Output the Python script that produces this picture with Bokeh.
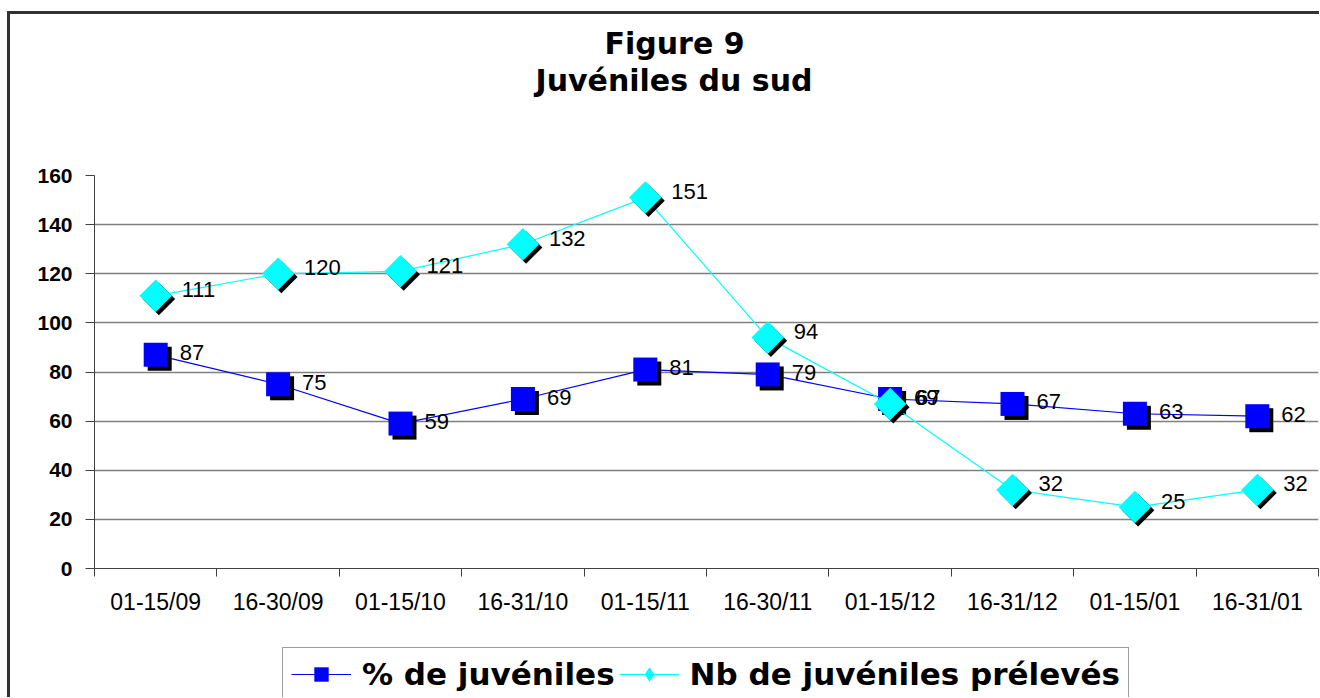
import numpy as np
from bokeh.plotting import figure
from bokeh.layouts import column
from bokeh.models import (Range1d, FixedTicker, Grid, Legend, LegendItem,
                          ColumnDataSource, Title)
from bokeh.core.properties import value
from bokeh.transform import dodge
from bokeh.embed import file_html
from bokeh.resources import INLINE

# ---- data ----
categories = ["01-15/09", "16-30/09", "01-15/10", "16-31/10", "01-15/11",
              "16-30/11", "01-15/12", "16-31/12", "01-15/01", "16-31/01"]
pct_juveniles = [87, 75, 59, 69, 81, 79, 69, 67, 63, 62]
nb_juveniles = [111, 120, 121, 132, 151, 94, 67, 32, 25, 32]
y_ticks = [0, 20, 40, 60, 80, 100, 120, 140, 160]
title_lines = ["Figure 9", "Juvéniles du sud"]
series_names = ["% de juvéniles", "Nb de juvéniles prélevés"]

n = len(categories)
xpos = [i + 0.5 for i in range(n)]

W, H = 1309, 626
HB = 57
ML, MT, MR, MB = 84, 161, 1, 72
frame_w = W - ML - MR
frame_h = H - MT - MB
ymax = y_ticks[-1]
SH = 4  # shadow offset px
dx = SH * n / frame_w
dy = -SH * ymax / frame_h

BLUE, CYAN = "#0000FF", "#00FFFF"
TITLE_FONT = dict(text_font="DejaVu Sans", text_font_style="bold",
                  text_font_size="30px", text_color="black")

src1 = ColumnDataSource(dict(x=xpos, y=pct_juveniles, t=[str(v) for v in pct_juveniles]))
src2 = ColumnDataSource(dict(x=xpos, y=nb_juveniles, t=[str(v) for v in nb_juveniles]))

p = figure(width=W, height=H, output_backend="svg", toolbar_location=None,
           x_range=Range1d(0, n), y_range=Range1d(0, ymax),
           min_border_left=ML, min_border_top=MT, min_border_right=MR,
           min_border_bottom=MB, background_fill_color="white",
           border_fill_color="white")
p.outline_line_color = None

# titles: above[0] is nearest the plot, p.title is outermost
p.add_layout(Title(text=" ", standoff=41, **TITLE_FONT), "above")       # spacer
p.add_layout(Title(text=title_lines[1], align="left", offset=441, standoff=0,
                   **TITLE_FONT), "above")
p.title.text = title_lines[0]
p.title.align = "left"
p.title.offset = 510
p.title.standoff = 0
p.title.text_font = "DejaVu Sans"
p.title.text_font_style = "bold"
p.title.text_font_size = "30px"
p.title.text_color = "black"

# axes
p.xaxis.ticker = FixedTicker(ticks=xpos, minor_ticks=list(range(n + 1)))
p.xaxis.major_label_overrides = {x: c for x, c in zip(xpos, categories)}
p.xaxis.major_tick_line_color = None
p.xaxis.major_tick_out = 0
p.xaxis.major_tick_in = 0
p.xaxis.minor_tick_out = 8
p.xaxis.minor_tick_in = 0
p.xaxis.minor_tick_line_color = "#404040"
p.xaxis.axis_line_color = "#404040"
p.xaxis.major_label_text_font = "Liberation Sans"
p.xaxis.major_label_text_font_size = "23px"
p.xaxis.major_label_text_color = "black"
p.xaxis.major_label_standoff = 12

p.yaxis.ticker = FixedTicker(ticks=y_ticks)
p.yaxis.minor_tick_line_color = None
p.yaxis.major_tick_out = 9
p.yaxis.major_tick_in = 0
p.yaxis.major_tick_line_color = "#404040"
p.yaxis.axis_line_color = "#404040"
p.yaxis.major_label_text_font = "Liberation Sans"
p.yaxis.major_label_text_font_style = "bold"
p.yaxis.major_label_text_font_size = "21px"
p.yaxis.major_label_text_color = "black"
p.yaxis.major_label_standoff = 13

p.xgrid.visible = False
p.ygrid.ticker = FixedTicker(ticks=y_ticks[1:-1])
p.ygrid.grid_line_color = "#808080"
p.ygrid.grid_line_width = 1.5
top_grid = Grid(dimension=1, ticker=FixedTicker(ticks=[ymax]),
                grid_line_color="#e4e4e4", grid_line_width=2)
p.add_layout(top_grid)

# series 1: % de juvéniles
p.line("x", "y", source=src1, line_color=BLUE, line_width=1.2)
p.scatter(dodge("x", dx), dodge("y", dy), source=src1, marker="square",
          size=24, fill_color="black", line_color=None)
p.scatter("x", "y", source=src1, marker="square", size=24,
          fill_color=BLUE, line_color=None)

# series 2: Nb de juvéniles prélevés
p.line("x", "y", source=src2, line_color=CYAN, line_width=1.2)
p.scatter(dodge("x", dx * 0.8), dodge("y", dy * 0.8), source=src2, marker="square",
          angle=np.pi / 4, size=23, fill_color="black", line_color=None)
p.scatter("x", "y", source=src2, marker="square", angle=np.pi / 4, size=23,
          fill_color=CYAN, line_color=None)

# data labels
p.text("x", "y", text="t", source=src1, x_offset=24, y_offset=-2,
       text_font=value("Liberation Sans"), text_font_size="22px", text_color="black",
       text_baseline="middle", text_align="left")
p.text("x", "y", text="t", source=src2, x_offset=26, y_offset=-6,
       text_font=value("Liberation Sans"), text_font_size="22px", text_color="black",
       text_baseline="middle", text_align="left")

# ---- legend strip (own figure so the legend is not clipped) ----
b = figure(width=W, height=HB, output_backend="svg", toolbar_location=None,
           x_range=Range1d(0, 1), y_range=Range1d(0, 1), min_border=0,
           x_axis_type=None, y_axis_type=None,
           background_fill_color="white", border_fill_color="white")
b.outline_line_color = None
b.xgrid.visible = False
b.ygrid.visible = False
lb1 = b.line(xpos, pct_juveniles, line_color=BLUE, line_width=1.2)
sb1 = b.scatter(xpos, pct_juveniles, marker="square", size=24,
                fill_color=BLUE, line_color=None)
lb2 = b.line(xpos, nb_juveniles, line_color=CYAN, line_width=1.2)
sb2 = b.scatter(xpos, nb_juveniles, marker="diamond", size=30,
                fill_color=CYAN, line_color=None)

legend = Legend(items=[LegendItem(label=series_names[0], renderers=[lb1, sb1]),
                       LegendItem(label=series_names[1], renderers=[lb2, sb2])],
                orientation="horizontal", location=(188, -4),
                label_text_font="DejaVu Sans", label_text_font_style="bold",
                label_text_font_size="31px", label_text_color="black",
                glyph_width=60, glyph_height=36, label_standoff=11,
                spacing=4, padding=8, margin=0,
                border_line_color="#404040", border_line_width=1.5,
                background_fill_color="white", background_fill_alpha=1.0)
b.add_layout(legend, "center")

layout = column(p, b, spacing=0,
                styles={"border-left": "3px solid #333333",
                        "border-top": "3px solid #333333",
                        "margin-left": "7px", "margin-top": "11px"})

open("out.html", "w").write(file_html(layout, INLINE))
